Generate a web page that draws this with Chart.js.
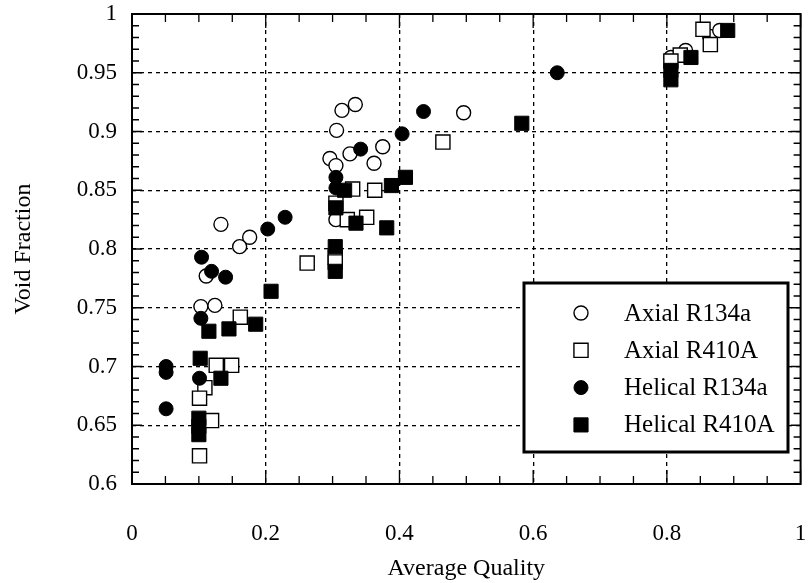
<!DOCTYPE html>
<html>
<head>
<meta charset="utf-8">
<script src="https://cdn.jsdelivr.net/npm/chart.js@4.4.1/dist/chart.umd.min.js"></script>
<style>
  html, body { margin: 0; padding: 0; background: #fff; }
</style>
</head>
<body>
<canvas id="voidChart" width="812" height="583"></canvas>
<script>
// Void fraction vs average quality: [quality, void fraction]
const axialR134a = [
  [0.133, 0.821], [0.176, 0.810], [0.161, 0.802], [0.111, 0.777], [0.103, 0.751], [0.124, 0.752],
  [0.314, 0.918], [0.334, 0.923], [0.496, 0.916], [0.306, 0.901], [0.326, 0.881], [0.375, 0.887],
  [0.296, 0.877], [0.362, 0.873], [0.305, 0.871], [0.305, 0.825],
  [0.806, 0.963], [0.828, 0.969], [0.864, 0.981], [0.879, 0.986]
];
const axialR410A = [
  [0.262, 0.788], [0.162, 0.742], [0.126, 0.701], [0.149, 0.701], [0.109, 0.682], [0.101, 0.673],
  [0.119, 0.654], [0.101, 0.624], [0.465, 0.891], [0.330, 0.851], [0.363, 0.850], [0.305, 0.839],
  [0.322, 0.825], [0.351, 0.827], [0.304, 0.793], [0.304, 0.789],
  [0.854, 0.987], [0.865, 0.974], [0.820, 0.965], [0.806, 0.960]
];
const helicalR134a = [
  [0.203, 0.817], [0.229, 0.827], [0.104, 0.793], [0.119, 0.781], [0.140, 0.776], [0.103, 0.741],
  [0.051, 0.700], [0.051, 0.695], [0.101, 0.690], [0.051, 0.664], [0.436, 0.917], [0.404, 0.898],
  [0.342, 0.885], [0.305, 0.861], [0.305, 0.852], [0.636, 0.950]
];
const helicalR410A = [
  [0.208, 0.764], [0.115, 0.730], [0.145, 0.732], [0.185, 0.736], [0.102, 0.707], [0.133, 0.690],
  [0.100, 0.656], [0.100, 0.649], [0.100, 0.642], [0.318, 0.850], [0.388, 0.854], [0.409, 0.861],
  [0.305, 0.835], [0.335, 0.822], [0.381, 0.818], [0.304, 0.802], [0.304, 0.781], [0.583, 0.907],
  [0.806, 0.952], [0.806, 0.944], [0.836, 0.963], [0.891, 0.986]
];

const xTicks = [0, 0.2, 0.4, 0.6, 0.8, 1];
const yTicks = [0.6, 0.65, 0.7, 0.75, 0.8, 0.85, 0.9, 0.95, 1];

const toPoints = arr => arr.map(p => ({ x: p[0], y: p[1] }));
const serif = '"Liberation Serif", "Times New Roman", serif';

Chart.defaults.font.family = serif;
Chart.defaults.color = '#000';

// box frame + inward ticks on all four sides
const frameTicks = {
  id: 'frameTicks',
  beforeDatasetsDraw(chart) {
    const { ctx, chartArea: a, scales: { x, y } } = chart;
    ctx.save();
    ctx.strokeStyle = '#000';
    ctx.lineWidth = 1.3;
    ctx.beginPath();
    for (let i = 0; i <= 20; i++) {
      const px = x.getPixelForValue(i * 0.05);
      const len = i % 4 === 0 ? 14 : 8;
      ctx.moveTo(px, a.bottom); ctx.lineTo(px, a.bottom - len);
      ctx.moveTo(px, a.top); ctx.lineTo(px, a.top + len);
    }
    for (let i = 0; i <= 40; i++) {
      const py = y.getPixelForValue(0.6 + i * 0.01);
      const len = i % 5 === 0 ? 10 : 7;
      ctx.moveTo(a.left, py); ctx.lineTo(a.left + len, py);
      ctx.moveTo(a.right, py); ctx.lineTo(a.right - len, py);
    }
    ctx.stroke();
    ctx.lineWidth = 2;
    ctx.strokeRect(a.left, a.top, a.right - a.left, a.bottom - a.top);
    ctx.restore();
  }
};

// boxed legend sitting inside the plot, lower right
const boxLegend = {
  id: 'boxLegend',
  afterDraw(chart) {
    const { ctx } = chart;
    const left = 524, top = 283, w = 264, h = 169;
    ctx.save();
    ctx.fillStyle = '#fff';
    ctx.fillRect(left, top, w, h);
    ctx.lineWidth = 3;
    ctx.strokeStyle = '#000';
    ctx.strokeRect(left, top, w, h);
    ctx.font = '25px ' + serif;
    ctx.textBaseline = 'middle';
    chart.data.datasets.forEach((ds, i) => {
      const cy = top + 30 + i * 37.3;
      ctx.fillStyle = ds.backgroundColor;
      ctx.strokeStyle = ds.borderColor;
      ctx.lineWidth = ds.borderWidth;
      Chart.helpers.drawPoint(ctx, {
        pointStyle: ds.pointStyle, radius: ds.pointRadius, rotation: 0, borderWidth: ds.borderWidth
      }, left + 57, cy);
      ctx.fillStyle = '#000';
      ctx.fillText(ds.label, left + 100, cy + 1);
    });
    ctx.restore();
  }
};

const edgeHidden = (vals) => c => {
  const v = c.tick ? c.tick.value : null;
  return (v === vals[0] || v === vals[vals.length - 1]) ? 'rgba(0,0,0,0)' : '#000';
};

new Chart(document.getElementById('voidChart'), {
  type: 'scatter',
  data: {
    datasets: [
      { label: 'Axial R134a', data: toPoints(axialR134a), pointStyle: 'circle', pointRadius: 7,
        backgroundColor: '#fff', borderColor: '#000', borderWidth: 1.4, order: 4 },
      { label: 'Axial R410A', data: toPoints(axialR410A), pointStyle: 'rect', pointRadius: 10,
        backgroundColor: '#fff', borderColor: '#000', borderWidth: 1.4, order: 3 },
      { label: 'Helical R134a', data: toPoints(helicalR134a), pointStyle: 'circle', pointRadius: 7,
        backgroundColor: '#000', borderColor: '#000', borderWidth: 1, order: 2 },
      { label: 'Helical R410A', data: toPoints(helicalR410A), pointStyle: 'rect', pointRadius: 10,
        backgroundColor: '#000', borderColor: '#000', borderWidth: 1, order: 1 }
    ]
  },
  options: {
    responsive: false,
    animation: false,
    devicePixelRatio: 1,
    layout: { padding: { top: 14, right: 0, left: 0, bottom: 0 } },
    plugins: {
      legend: { display: false },
      tooltip: { enabled: false }
    },
    scales: {
      x: {
        type: 'linear',
        min: 0,
        max: 1,
        afterBuildTicks: s => { s.ticks = xTicks.map(v => ({ value: v })); },
        afterFit: s => { s.height = 99; },
        ticks: {
          padding: 0,
          font: { size: 23 },
          callback: v => String(+v.toFixed(2))
        },
        grid: { drawTicks: true, tickLength: 36, tickColor: 'rgba(0,0,0,0)', lineWidth: 1.3, color: edgeHidden(xTicks) },
        border: { display: false, dash: [4, 4] },
        title: {
          display: true,
          text: 'Average Quality',
          font: { size: 24 },
          padding: { top: 0, bottom: 0 }
        }
      },
      y: {
        type: 'linear',
        min: 0.6,
        max: 1,
        afterBuildTicks: s => { s.ticks = yTicks.map(v => ({ value: v })); },
        afterFit: s => { s.width = 132; },
        ticks: {
          padding: 0,
          font: { size: 23 },
          callback: v => String(+v.toFixed(2))
        },
        grid: { drawTicks: true, tickLength: 15, tickColor: 'rgba(0,0,0,0)', lineWidth: 1.3, color: edgeHidden(yTicks) },
        border: { display: false, dash: [4, 4] },
        title: {
          display: true,
          text: 'Void Fraction',
          font: { size: 24 },
          padding: { top: 9, bottom: 0 }
        }
      }
    }
  },
  plugins: [frameTicks, boxLegend]
});
</script>
</body>
</html>
